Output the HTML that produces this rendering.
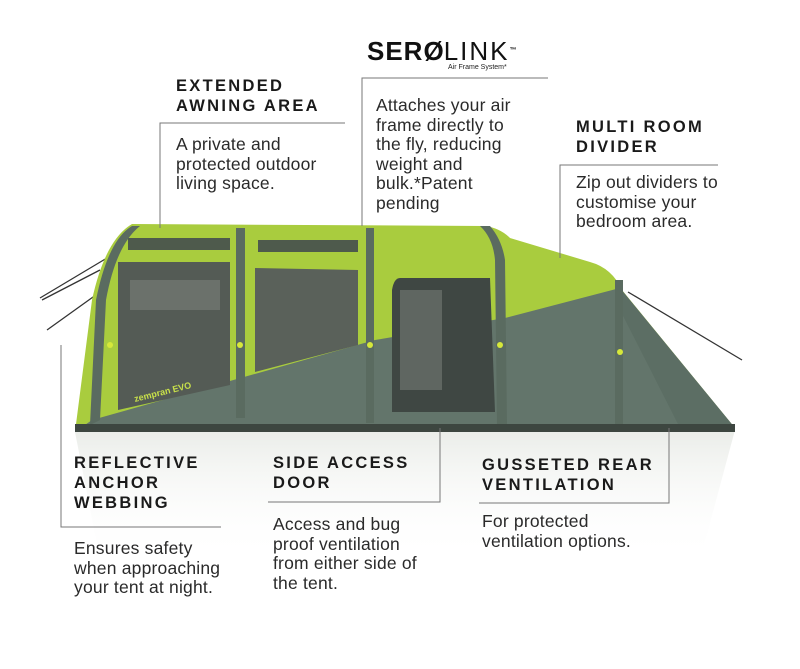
<!DOCTYPE html>
<html><head><meta charset="utf-8"><style>
html,body{margin:0;padding:0;background:#fff;}
body{width:800px;height:669px;position:relative;overflow:hidden;font-family:"Liberation Sans",sans-serif;color:#222;}
.h{position:absolute;font-weight:bold;font-size:16.5px;letter-spacing:2.3px;line-height:20px;color:#1a1a1a;}
.t{position:absolute;font-size:17.5px;line-height:19.5px;color:#2a2a2a;letter-spacing:0.2px;}
svg{position:absolute;left:0;top:0;}
</style></head><body>
<svg width="800" height="669" viewBox="0 0 800 669">
<defs>
<linearGradient id="refl" x1="0" y1="0" x2="0" y2="1">
<stop offset="0" stop-color="#d5dad2" stop-opacity="0.5"/><stop offset="1" stop-color="#fff" stop-opacity="0"/></linearGradient>
</defs>
<polygon points="75,432 735,430 700,560 100,560" fill="url(#refl)"/>
<g stroke="#333" stroke-width="1.3">
<line x1="40" y1="298" x2="112" y2="255"/><line x1="42" y1="300" x2="100" y2="270"/>
<line x1="47" y1="330" x2="100" y2="292"/>
<line x1="628" y1="292" x2="742" y2="360"/>
</g>
<path d="M75,432 L92,300 Q105,240 132,224 L485,226 Q500,228 510,238 L590,262 Q612,268 622,290 L735,428 Z" fill="#a9cc3e"/>
<path d="M75,432 L92,420 L375,340 L505,318 L620,288 L735,428 Z" fill="#63756b"/>
<path d="M620,288 L735,428 L680,428 L615,300 Z" fill="#5c6e64"/>
<rect x="128" y="238" width="102" height="12" fill="#4e5a4c"/>
<rect x="258" y="240" width="100" height="12" fill="#4e5a4c"/>
<path d="M118,262 L230,262 L230,385 L118,410 Z" fill="#545b55"/>
<path d="M255,268 L358,270 L358,345 L255,372 Z" fill="#5a615a"/>
<rect x="130" y="280" width="90" height="30" fill="#6b716b"/>
<path d="M400,278 L490,278 L495,412 L392,412 L392,290 Q394,278 400,278 Z" fill="#3f4743"/>
<rect x="400" y="290" width="42" height="100" fill="#5f6661"/>
<g fill="#5a6b60">
<path d="M96,300 Q108,240 132,226 L140,226 Q116,245 106,300 L100,420 L90,425 Z"/>
<rect x="236" y="228" width="9" height="190"/>
<rect x="366" y="228" width="8" height="195"/>
<path d="M480,226 L490,226 Q502,240 505,260 L507,425 L497,425 L495,260 Q493,238 480,226 Z"/>
<rect x="615" y="280" width="8" height="150"/>
</g>
<rect x="75" y="424" width="660" height="8" fill="#3d4640"/>
<g fill="#d6e83a"><circle cx="110" cy="345" r="3"/><circle cx="240" cy="345" r="3"/><circle cx="370" cy="345" r="3"/><circle cx="500" cy="345" r="3"/><circle cx="620" cy="352" r="3"/></g>
<text x="135" y="402" font-family="Liberation Sans,sans-serif" font-size="9" font-weight="bold" fill="#c8e04a" transform="rotate(-14 135 402)">zempran EVO</text>
<g stroke="#777" stroke-width="1" fill="none">
<polyline points="345,123 160,123 160,228"/>
<polyline points="548,78 362,78 362,226"/>
<polyline points="718,165 560,165 560,258"/>
<polyline points="61,345 61,527 221,527"/>
<polyline points="440,428 440,502 268,502"/>
<polyline points="669,428 669,503 479,503"/>
</g>
</svg>
<div style="position:absolute;left:367px;top:36px;font-weight:bold;font-size:26px;letter-spacing:1px;color:#111;line-height:30px;">SER<span style="letter-spacing:0">Ø</span><span style="font-weight:normal;letter-spacing:2px">LINK</span><span style="font-size:7px;vertical-align:top">™</span></div>
<div style="position:absolute;left:448px;top:64px;font-size:7px;color:#222;">Air Frame System*</div>
<div class="h" style="left:176px;top:76px;">EXTENDED<br>AWNING AREA</div>
<div class="t" style="left:176px;top:135px;">A private and<br>protected outdoor<br>living space.</div>
<div class="t" style="left:376px;top:96px;">Attaches your air<br>frame directly to<br>the fly, reducing<br>weight and<br><span style="line-height:14px">bulk.*Patent<br>pending</span></div>
<div class="h" style="left:576px;top:117px;">MULTI ROOM<br>DIVIDER</div>
<div class="t" style="left:576px;top:173px;">Zip out dividers to<br>customise your<br>bedroom area.</div>
<div class="h" style="left:74px;top:453px;">REFLECTIVE<br>ANCHOR<br>WEBBING</div>
<div class="t" style="left:74px;top:539px;">Ensures safety<br>when approaching<br>your tent at night.</div>
<div class="h" style="left:273px;top:453px;">SIDE ACCESS<br>DOOR</div>
<div class="t" style="left:273px;top:515px;">Access and bug<br>proof ventilation<br>from either side of<br>the tent.</div>
<div class="h" style="left:482px;top:455px;">GUSSETED REAR<br>VENTILATION</div>
<div class="t" style="left:482px;top:512px;">For protected<br>ventilation options.</div>
</body></html>
